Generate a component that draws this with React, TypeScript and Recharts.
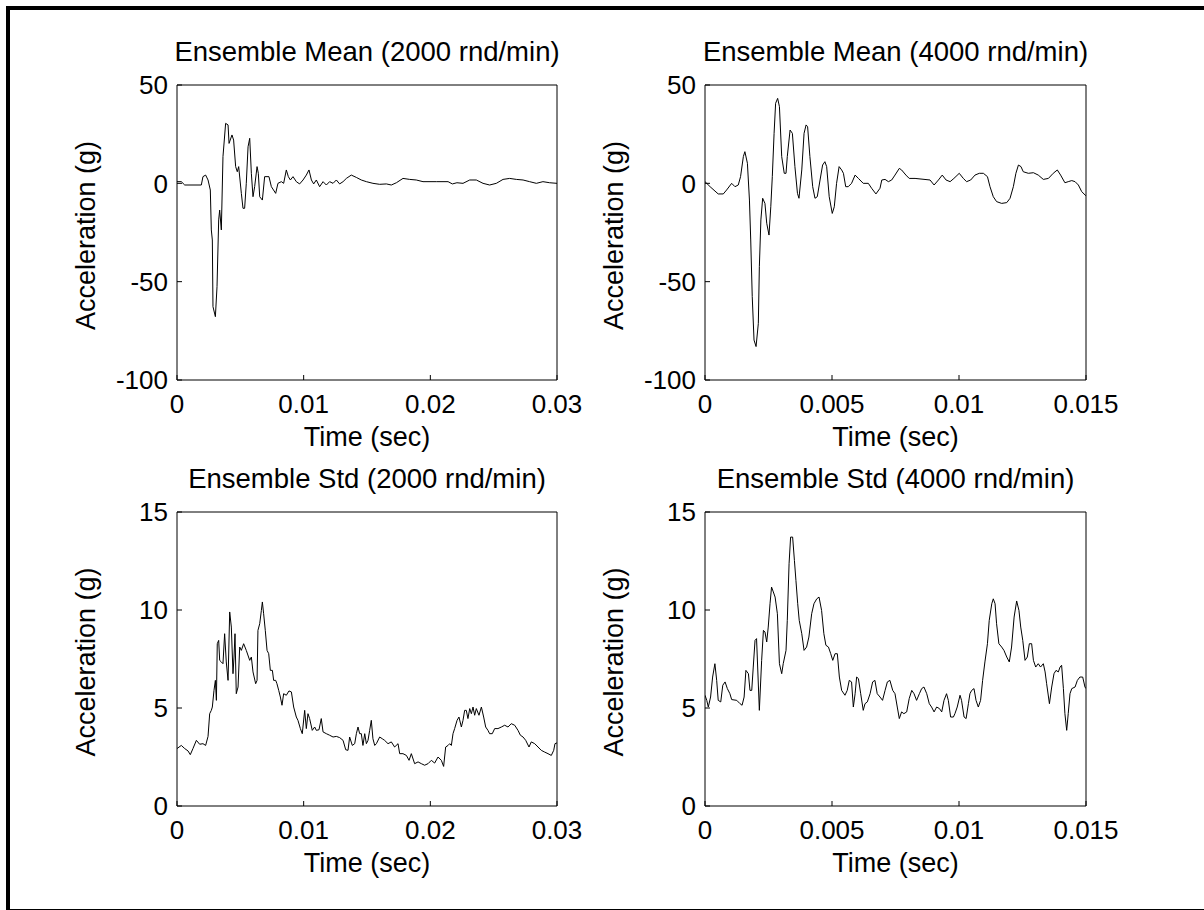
import React from 'react';
import { LineChart, Line, XAxis, YAxis } from 'recharts';

const FONT = "'Liberation Sans', Arial, Helvetica, sans-serif";

// ---- Tick labels ----
const time2000Ticks = [0, 0.01, 0.02, 0.03];
const time4000Ticks = [0, 0.005, 0.01, 0.015];
const meanTicks = [-100, -50, 0, 50];
const stdTicks = [0, 5, 10, 15];

// ---- Titles ----
const titles = [
  'Ensemble Mean (2000 rnd/min)',
  'Ensemble Mean (4000 rnd/min)',
  'Ensemble Std (2000 rnd/min)',
  'Ensemble Std (4000 rnd/min)',
];

// ---- Ensemble Mean, 2000 rnd/min ----
const mean2000Time = [0, 0.00034, 0.00061, 0.00192, 0.00205, 0.00226, 0.00245, 0.00263, 0.00271, 0.00279, 0.00284, 0.00303, 0.00316, 0.00329, 0.00337, 0.0035, 0.00363, 0.00384, 0.00403, 0.00411, 0.00434, 0.00447, 0.00463, 0.00476, 0.00487, 0.00508, 0.00521, 0.00534, 0.00547, 0.00561, 0.00574, 0.00587, 0.006, 0.00613, 0.00632, 0.00642, 0.00653, 0.00674, 0.00692, 0.00726, 0.00745, 0.00779, 0.00797, 0.00824, 0.00842, 0.00863, 0.00879, 0.00895, 0.00916, 0.00942, 0.00968, 0.00995, 0.01021, 0.01042, 0.01061, 0.01079, 0.011, 0.01126, 0.01153, 0.01179, 0.01205, 0.01232, 0.01258, 0.01284, 0.01311, 0.01337, 0.01376, 0.01416, 0.01455, 0.01495, 0.01547, 0.016, 0.01653, 0.01692, 0.01732, 0.01784, 0.01837, 0.01889, 0.01942, 0.02047, 0.0214, 0.02174, 0.0221, 0.02258, 0.02311, 0.02363, 0.02416, 0.02468, 0.02521, 0.02574, 0.02626, 0.02679, 0.02732, 0.02784, 0.02837, 0.02889, 0.02942, 0.03];
const mean2000Accel = [0.85, 0.85, -0.85, -0.85, 3.4, 4.2, 1.7, -3.4, -23.7, -28.8, -62.7, -67.8, -52.5, -18.6, -13.6, -23.7, 13.6, 30.5, 29.7, 20.3, 24.6, 22.0, 8.5, 5.9, 8.5, -5.1, -12.7, -12.7, 0, 18.6, 22.9, 5.1, -6.8, -1.7, 8.5, 5.1, -6.8, -8.5, 3.4, 3.4, -1.7, -5.1, 0, 0.85, 0, 6.8, 3.4, 1.7, 3.4, 0.85, -0.3, 1.7, 4.2, 6.8, 1.7, -0.3, 1.7, -1.7, 0.85, -0.85, 0.85, 0, 1.7, -0.3, 0.85, 2.5, 4.2, 3.0, 1.7, 0.85, 0, -0.5, -0.3, -0.85, 0.3, 2.5, 2.0, 1.7, 0.85, 0.85, 0.85, -0.3, 0.3, 0, 1.7, 1.7, 0, -0.85, 0, 2.0, 2.5, 2.0, 1.7, 0.85, 0, 0.85, 0.3, 0];

// ---- Ensemble Mean, 4000 rnd/min ----
const mean4000Time = [0, 0.0002, 0.00052, 0.00072, 0.00085, 0.00105, 0.00118, 0.00131, 0.0014, 0.00151, 0.00157, 0.00167, 0.00175, 0.0018, 0.00186, 0.00193, 0.00201, 0.0021, 0.00214, 0.0022, 0.00227, 0.00236, 0.00243, 0.00252, 0.00259, 0.00265, 0.00272, 0.00278, 0.00286, 0.00293, 0.00302, 0.00312, 0.00319, 0.00324, 0.00335, 0.00344, 0.00354, 0.00364, 0.0037, 0.00381, 0.0039, 0.00398, 0.00404, 0.00413, 0.00424, 0.00433, 0.00442, 0.00453, 0.00463, 0.00472, 0.00479, 0.00489, 0.00501, 0.00509, 0.00518, 0.00528, 0.00538, 0.00545, 0.00554, 0.00564, 0.00577, 0.00591, 0.00604, 0.00623, 0.00643, 0.00656, 0.00673, 0.00689, 0.00696, 0.00709, 0.00722, 0.00735, 0.00748, 0.00765, 0.00774, 0.00791, 0.00804, 0.00827, 0.00886, 0.00902, 0.00919, 0.00934, 0.00949, 0.00965, 0.0098, 0.01001, 0.01017, 0.0103, 0.01046, 0.01063, 0.0108, 0.01096, 0.01112, 0.01122, 0.01135, 0.01148, 0.01168, 0.01188, 0.01201, 0.01214, 0.01224, 0.01234, 0.01244, 0.01253, 0.01273, 0.01293, 0.01312, 0.01332, 0.01352, 0.01371, 0.01387, 0.014, 0.01417, 0.0143, 0.01444, 0.01457, 0.0147, 0.01483, 0.015];
const mean4000Accel = [0.85, -1.7, -5.4, -5.4, -3.4, 0, -1.7, -0.85, 3.4, 13.6, 16.1, 10.2, -8.5, -28.8, -57.6, -79.7, -83.0, -71.2, -42.4, -18.6, -7.6, -10.2, -20.3, -26.3, -11.9, 3.4, 25.4, 40.7, 43.2, 39.0, 13.6, 5.1, 5.1, 13.6, 27.1, 25.4, 8.5, -5.1, -7.6, 6.8, 25.4, 29.7, 28.8, 13.6, -1.7, -7.6, -6.8, 1.7, 9.3, 11.0, 8.5, -6.8, -15.3, -11.9, 0, 8.5, 6.8, 5.1, -1.7, -1.7, 0, 4.2, 2.5, 0, 0, -2.5, -5.4, -2.5, 1.7, 2.0, 0.85, 1.7, 4.2, 7.6, 6.8, 4.2, 2.5, 2.5, 1.7, -0.85, 1.7, 4.2, 1.7, 0.85, 2.5, 5.1, 2.5, 0.85, 1.7, 4.2, 5.1, 5.1, 3.4, -1.7, -6.8, -9.3, -10.2, -9.8, -7.6, -1.7, 5.1, 9.3, 8.5, 5.9, 5.1, 5.4, 4.2, 2.0, 2.5, 5.1, 6.8, 4.2, 0.3, 0.85, 1.4, 0.85, -0.85, -4.2, -6.4];

// ---- Ensemble Std, 2000 rnd/min ----
const std2000Time = [0, 0.00034, 0.00061, 0.00087, 0.00105, 0.00126, 0.00153, 0.00179, 0.00205, 0.00226, 0.00245, 0.00258, 0.00271, 0.00279, 0.00292, 0.00303, 0.00311, 0.00318, 0.00329, 0.00337, 0.0035, 0.00363, 0.00376, 0.00389, 0.00403, 0.00416, 0.00429, 0.00442, 0.0045, 0.00458, 0.00468, 0.00482, 0.00495, 0.00508, 0.00526, 0.00547, 0.00574, 0.00587, 0.006, 0.00621, 0.00632, 0.00639, 0.00653, 0.00666, 0.00674, 0.00684, 0.00697, 0.00711, 0.00724, 0.00737, 0.00753, 0.00763, 0.00779, 0.00789, 0.00803, 0.00816, 0.00829, 0.00842, 0.00863, 0.00884, 0.00903, 0.00921, 0.00942, 0.00955, 0.00974, 0.00989, 0.01008, 0.01021, 0.01034, 0.01047, 0.01068, 0.01087, 0.011, 0.01121, 0.01139, 0.01153, 0.01179, 0.01205, 0.01232, 0.01258, 0.01284, 0.01311, 0.01332, 0.0135, 0.01363, 0.01384, 0.01403, 0.01416, 0.01429, 0.01442, 0.01455, 0.01468, 0.01482, 0.01495, 0.01508, 0.01521, 0.01534, 0.01547, 0.01561, 0.01574, 0.016, 0.01621, 0.01639, 0.01666, 0.01692, 0.01718, 0.01745, 0.01758, 0.01784, 0.01811, 0.01832, 0.0185, 0.01876, 0.01903, 0.01929, 0.01955, 0.01982, 0.02008, 0.02034, 0.02061, 0.02087, 0.02105, 0.02121, 0.0214, 0.02153, 0.02166, 0.02179, 0.02192, 0.02211, 0.02226, 0.02245, 0.02258, 0.02271, 0.02284, 0.02297, 0.02311, 0.02324, 0.02337, 0.0235, 0.02363, 0.02384, 0.02403, 0.02421, 0.02437, 0.02455, 0.02468, 0.02489, 0.02508, 0.02534, 0.02561, 0.02587, 0.02613, 0.02639, 0.02666, 0.02692, 0.02711, 0.02732, 0.02753, 0.02779, 0.02797, 0.02824, 0.0285, 0.02876, 0.02903, 0.02929, 0.02955, 0.02974, 0.02984, 0.03];
const std2000Accel = [2.93, 3.09, 2.93, 2.81, 2.62, 2.93, 3.35, 3.15, 3.18, 3.09, 3.55, 4.71, 4.88, 5.05, 5.9, 6.41, 5.39, 8.28, 8.45, 7.43, 7.35, 7.26, 8.79, 7.35, 6.41, 9.9, 9.13, 6.75, 7.6, 8.79, 5.73, 6.07, 8.11, 7.94, 8.28, 7.94, 7.43, 7.6, 6.84, 6.24, 6.41, 8.96, 9.3, 9.98, 10.41, 9.81, 8.96, 7.94, 7.77, 6.92, 6.92, 6.41, 6.41, 6.24, 5.9, 5.56, 5.14, 5.73, 5.65, 5.87, 5.82, 5.05, 4.54, 4.37, 3.95, 3.69, 4.88, 3.95, 4.71, 4.46, 3.86, 4.03, 3.86, 3.89, 4.46, 3.78, 3.69, 3.61, 3.52, 3.55, 3.49, 3.35, 2.87, 2.84, 3.52, 3.09, 3.18, 3.69, 4.03, 3.69, 3.69, 3.09, 3.69, 3.18, 3.35, 3.86, 4.37, 3.43, 3.09, 3.18, 3.52, 3.43, 3.35, 3.18, 3.27, 3.01, 3.18, 2.67, 2.67, 2.58, 2.33, 2.67, 2.16, 2.25, 2.16, 2.08, 2.16, 2.33, 2.19, 2.5, 2.33, 2.02, 3.01, 3.09, 3.18, 3.09, 3.69, 3.95, 4.37, 4.54, 4.03, 4.37, 4.88, 4.88, 4.46, 4.97, 4.71, 5.05, 4.63, 4.97, 4.63, 5.05, 4.54, 4.03, 3.86, 3.69, 3.69, 3.95, 3.95, 4.03, 4.12, 4.03, 4.2, 4.12, 3.86, 3.61, 3.52, 3.35, 3.01, 3.27, 3.18, 3.01, 2.84, 2.75, 2.67, 2.58, 2.84, 3.18, 3.22];

// ---- Ensemble Std, 4000 rnd/min ----
const std4000Time = [0, 0.00007, 0.00013, 0.00022, 0.0003, 0.00039, 0.00046, 0.00052, 0.00062, 0.0007, 0.00079, 0.00088, 0.00098, 0.00105, 0.00125, 0.00138, 0.00146, 0.00154, 0.00161, 0.00171, 0.00177, 0.00184, 0.0019, 0.00197, 0.00203, 0.00214, 0.00223, 0.0023, 0.00236, 0.00243, 0.00249, 0.00256, 0.00262, 0.00269, 0.00276, 0.00285, 0.00293, 0.00302, 0.00308, 0.00319, 0.00324, 0.00331, 0.00337, 0.00345, 0.00352, 0.00358, 0.00365, 0.00371, 0.00381, 0.0039, 0.004, 0.00409, 0.0042, 0.00429, 0.0044, 0.00449, 0.00459, 0.00468, 0.00476, 0.00486, 0.00495, 0.00503, 0.00512, 0.00521, 0.00529, 0.00538, 0.00551, 0.0056, 0.00568, 0.00577, 0.00584, 0.00591, 0.00597, 0.00604, 0.00613, 0.00623, 0.0063, 0.00639, 0.0065, 0.0066, 0.00669, 0.00678, 0.00689, 0.00699, 0.00709, 0.00718, 0.00728, 0.00739, 0.00748, 0.00757, 0.00765, 0.00774, 0.00783, 0.00794, 0.00804, 0.00814, 0.00823, 0.00833, 0.00844, 0.00853, 0.00862, 0.00873, 0.00883, 0.00892, 0.00902, 0.00912, 0.00923, 0.00932, 0.00941, 0.00951, 0.00958, 0.00967, 0.00978, 0.00984, 0.00993, 0.01004, 0.0101, 0.0102, 0.01028, 0.01037, 0.01043, 0.0105, 0.01059, 0.01067, 0.01076, 0.01085, 0.01093, 0.01102, 0.01112, 0.01119, 0.01129, 0.01135, 0.01142, 0.01148, 0.01157, 0.01168, 0.01177, 0.01188, 0.01198, 0.01207, 0.01217, 0.01227, 0.01236, 0.01243, 0.01251, 0.0126, 0.01269, 0.01277, 0.01286, 0.01293, 0.01302, 0.01312, 0.01321, 0.01332, 0.01339, 0.01345, 0.01356, 0.01365, 0.01374, 0.01382, 0.01391, 0.01398, 0.01404, 0.01411, 0.01417, 0.01424, 0.0143, 0.01437, 0.01444, 0.01457, 0.01466, 0.01476, 0.01487, 0.01496, 0.015];
const std4000Accel = [5.65, 5.39, 5.05, 5.56, 6.58, 7.26, 6.41, 5.39, 5.31, 6.16, 6.33, 5.99, 5.73, 5.43, 5.39, 5.22, 5.14, 5.56, 6.92, 6.75, 5.9, 5.9, 7.09, 8.45, 8.54, 4.88, 7.43, 8.96, 8.88, 8.37, 9.13, 10.32, 11.17, 10.92, 10.66, 9.81, 7.26, 6.75, 7.26, 7.94, 9.47, 12.36, 13.72, 13.72, 12.53, 11.51, 10.32, 9.47, 8.79, 7.94, 8.11, 8.62, 9.81, 10.32, 10.57, 10.66, 9.98, 8.79, 8.2, 8.11, 7.77, 7.43, 7.77, 7.77, 6.58, 5.9, 5.65, 5.9, 6.41, 6.33, 5.05, 5.73, 6.58, 6.5, 5.73, 4.88, 5.22, 5.31, 5.73, 6.33, 6.41, 5.73, 5.56, 5.39, 5.9, 6.33, 6.41, 5.9, 5.73, 5.05, 4.46, 4.8, 4.71, 4.8, 5.48, 5.9, 5.73, 5.39, 5.73, 5.99, 6.07, 5.73, 5.22, 5.05, 4.8, 5.05, 4.97, 4.8, 5.39, 5.73, 5.39, 4.54, 4.54, 4.71, 5.05, 5.65, 5.39, 4.54, 4.46, 5.22, 5.73, 5.9, 5.99, 5.39, 5.05, 5.39, 6.41, 7.35, 8.28, 9.47, 10.32, 10.57, 10.32, 9.3, 8.28, 8.11, 7.94, 7.6, 7.35, 8.11, 9.64, 10.46, 9.98, 9.13, 8.45, 7.43, 7.6, 8.28, 8.28, 7.43, 7.09, 7.26, 7.09, 7.26, 6.84, 6.24, 5.22, 6.07, 6.75, 6.92, 6.84, 7.09, 7.18, 5.99, 4.71, 3.86, 4.71, 5.73, 5.99, 6.07, 6.41, 6.58, 6.58, 6.07, 5.99];

const tickStyle = { fill: '#000', fontSize: 26, fontFamily: FONT };
const labelStyle = { fill: '#000', fontSize: 27, fontFamily: FONT };
const titleStyle = { fill: '#000', fontSize: 27.5, fontFamily: FONT };

type PanelProps = {
  left: number;
  top: number;
  plotW: number;
  plotH: number;
  title: string;
  times: number[];
  values: number[];
  xTicks: number[];
  yTicks: number[];
};

function Panel({ left, top, plotW, plotH, title, times, values, xTicks, yTicks }: PanelProps) {
  const data = times.map((t, i) => ({ t, v: values[i] }));
  const xDomain = [xTicks[0], xTicks[xTicks.length - 1]];
  const yDomain = [yTicks[0], yTicks[yTicks.length - 1]];
  const ML = 120; // left axis width
  const MT = 50; // space above plot
  const MR = 56; // space right of plot
  const HB = 80; // bottom axis height
  return (
    <div style={{ position: 'absolute', left: left - ML, top: top - MT }}>
      <LineChart
        width={ML + plotW + MR}
        height={MT + plotH + HB}
        data={data}
        margin={{ top: MT - 1, right: MR - 1, bottom: 0, left: 0 }}
        style={{ fontFamily: FONT }}
      >
        <XAxis
          dataKey="t"
          type="number"
          domain={xDomain}
          ticks={xTicks}
          allowDataOverflow
          interval={0}
          height={HB}
          tickSize={-5}
          tickMargin={20}
          stroke="#000"
          tick={tickStyle}
          label={{ value: 'Time (sec)', position: 'insideBottom', offset: 14, ...labelStyle }}
        />
        <XAxis
          xAxisId="top"
          orientation="top"
          dataKey="t"
          type="number"
          domain={xDomain}
          ticks={xTicks}
          allowDataOverflow
          interval={0}
          height={1}
          tickSize={-5}
          tick={false}
          stroke="#000"
          label={{ value: title, position: 'top', offset: 23, ...titleStyle }}
        />
        <YAxis
          type="number"
          domain={yDomain}
          ticks={yTicks}
          allowDataOverflow
          interval={0}
          width={ML}
          tickSize={-5}
          tickMargin={14}
          stroke="#000"
          tick={tickStyle}
          label={{ value: 'Acceleration (g)', angle: -90, position: 'center', dx: -32, dy: 3, ...labelStyle }}
        />
        <YAxis
          yAxisId="right"
          orientation="right"
          type="number"
          domain={yDomain}
          ticks={yTicks}
          allowDataOverflow
          interval={0}
          width={1}
          tickSize={-5}
          tick={false}
          stroke="#000"
        />
        <Line
          type="linear"
          dataKey="v"
          stroke="#000"
          strokeWidth={1}
          dot={false}
          activeDot={false}
          isAnimationActive={false}
        />
      </LineChart>
    </div>
  );
}

export default function App() {
  return (
    <div
      style={{
        position: 'absolute',
        left: 0,
        top: 0,
        width: 1204,
        height: 910,
        overflow: 'hidden',
        background: '#fff',
        fontFamily: FONT,
      }}
    >
      <div
        style={{
          position: 'absolute',
          left: 6,
          top: 6,
          width: 1198,
          height: 904,
          boxSizing: 'border-box',
          borderLeft: '4px solid #000',
          borderTop: '4px solid #000',
          borderBottom: '1px solid #000',
        }}
      />
      <Panel left={177} top={85} plotW={380} plotH={295} title={titles[0]} times={mean2000Time} values={mean2000Accel} xTicks={time2000Ticks} yTicks={meanTicks} />
      <Panel left={705} top={85} plotW={381} plotH={295} title={titles[1]} times={mean4000Time} values={mean4000Accel} xTicks={time4000Ticks} yTicks={meanTicks} />
      <Panel left={177} top={512} plotW={380} plotH={294} title={titles[2]} times={std2000Time} values={std2000Accel} xTicks={time2000Ticks} yTicks={stdTicks} />
      <Panel left={705} top={512} plotW={381} plotH={294} title={titles[3]} times={std4000Time} values={std4000Accel} xTicks={time4000Ticks} yTicks={stdTicks} />
    </div>
  );
}
